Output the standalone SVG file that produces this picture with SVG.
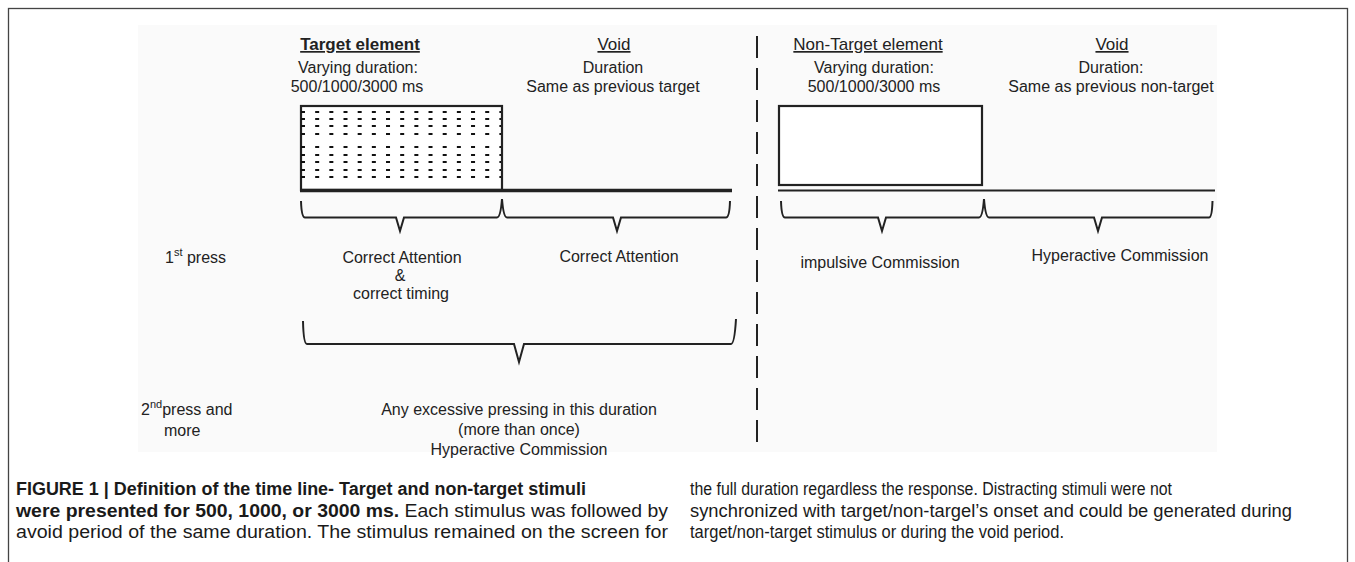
<svg xmlns="http://www.w3.org/2000/svg" width="1355" height="562" viewBox="0 0 1355 562">
<style>
text{font-family:"Liberation Sans",Arial,Helvetica,sans-serif;fill:#222}
.lbl{font-size:16px}
.c{text-anchor:middle}
.hd{font-size:17px;text-decoration:underline}
.b{font-weight:bold}
.sup{font-size:11px}
.cap{font-size:17.5px;fill:#1a1a1a}
.brace{fill:none;stroke:#222;stroke-width:2;stroke-linejoin:miter}
.dots{stroke:#111;stroke-width:2;stroke-dasharray:4 10.17}
.box{fill:#fff;stroke:#222;stroke-width:2.2}
</style>
<rect width="1355" height="562" fill="#fff"/>
<g id="frame">
<rect x="8.5" y="8.5" width="1339" height="620" fill="none" stroke="#444" stroke-width="1.3"/>
<rect x="138" y="25" width="1079" height="427" fill="#fafafa"/>
</g>
<g id="target-element">
<text class="hd b c" x="360" y="50">Target element</text>
<text class="lbl c" x="358" y="73">Varying duration:</text>
<text class="lbl c" x="357" y="92">500/1000/3000 ms</text>
<rect class="box" x="301" y="106" width="201" height="84"/>
<line class="dots" x1="301" x2="501" y1="112" y2="112"/>
<line class="dots" x1="301" x2="501" y1="119" y2="119"/>
<line class="dots" x1="301" x2="501" y1="126" y2="126"/>
<line class="dots" x1="301" x2="501" y1="134" y2="134"/>
<line class="dots" x1="301" x2="501" y1="147" y2="147"/>
<line class="dots" x1="301" x2="501" y1="155" y2="155"/>
<line class="dots" x1="301" x2="501" y1="162" y2="162"/>
<line class="dots" x1="301" x2="501" y1="170" y2="170"/>
<line class="dots" x1="301" x2="501" y1="177" y2="177"/>
</g>
<g id="void-target">
<text class="hd c" x="614" y="50">Void</text>
<text class="lbl c" x="613" y="73">Duration</text>
<text class="lbl c" x="613" y="92">Same as previous target</text>
</g>
<g id="non-target-element">
<text class="hd c" x="868" y="50">Non-Target element</text>
<text class="lbl c" x="874" y="73">Varying duration:</text>
<text class="lbl c" x="874" y="92">500/1000/3000 ms</text>
<rect class="box" x="779" y="106" width="203" height="79"/>
</g>
<g id="void-non-target">
<text class="hd c" x="1112" y="50">Void</text>
<text class="lbl c" x="1111" y="73">Duration:</text>
<text class="lbl c" x="1111" y="92">Same as previous non-target</text>
</g>
<g id="connectors">
<line x1="300" y1="190.5" x2="732" y2="190.5" stroke="#222" stroke-width="3.5"/>
<line x1="778" y1="190.5" x2="1215" y2="190.5" stroke="#222" stroke-width="2"/>
<line x1="757" y1="36" x2="757" y2="452" stroke="#222" stroke-width="2" stroke-dasharray="22 10"/>
<path class="brace" d="M301,201 Q301.5,217.5 305,217.5 L396,217.5 L400,231 L404,217.5 L497,217.5 Q500.5,217.5 502,199 Q503.5,217.5 507,217.5 L613,217.5 L617,231 L621,217.5 L726,217.5 Q729.5,217.5 730,201"/>
<path class="brace" d="M781,201 Q781.5,217.5 785,217.5 L878,217.5 L882,231 L886,217.5 L979,217.5 Q982.5,217.5 984,199 Q985.5,217.5 989,217.5 L1094,217.5 L1098,231 L1102,217.5 L1209,217.5 Q1212,217.5 1212.5,201"/>
<path class="brace" d="M303,321 Q303.5,344 307,344 L514,344 L519,362 L524,344 L731,344 Q734.5,344 736,319"/>
</g>
<g id="row-1st-press">
<text class="lbl" x="165" y="263">1<tspan class="sup" dy="-7">st</tspan><tspan dy="7"> press</tspan></text>
<text class="lbl c" x="402" y="263">Correct Attention</text>
<text class="lbl c" x="400" y="281">&amp;</text>
<text class="lbl c" x="401" y="299">correct timing</text>
<text class="lbl c" x="619" y="262">Correct Attention</text>
<text class="lbl c" x="880" y="268">impulsive Commission</text>
<text class="lbl c" x="1120" y="261">Hyperactive Commission</text>
</g>
<g id="row-2nd-press">
<text class="lbl" x="141" y="415">2<tspan class="sup" dy="-7">nd</tspan><tspan dy="7">press and</tspan></text>
<text class="lbl" x="164" y="436">more</text>
<text class="lbl c" x="519" y="415">Any excessive pressing in this duration</text>
<text class="lbl c" x="519" y="435">(more than once)</text>
<text class="lbl c" x="519" y="455">Hyperactive Commission</text>
</g>
<g id="caption">
<text class="cap b" x="16" y="495" textLength="570" lengthAdjust="spacingAndGlyphs">FIGURE 1 | Definition of the time line- Target and non-target stimuli</text>
<text class="cap" x="16" y="517" textLength="652" lengthAdjust="spacingAndGlyphs"><tspan class="b">were presented for 500, 1000, or 3000 ms.</tspan> Each stimulus was followed by</text>
<text class="cap" x="16" y="538" textLength="652" lengthAdjust="spacingAndGlyphs">avoid period of the same duration. The stimulus remained on the screen for</text>
<text class="cap" x="690" y="495" textLength="482" lengthAdjust="spacingAndGlyphs">the full duration regardless the response. Distracting stimuli were not</text>
<text class="cap" x="690" y="517" textLength="602" lengthAdjust="spacingAndGlyphs">synchronized with target/non-targel’s onset and could be generated during</text>
<text class="cap" x="690" y="538" textLength="374" lengthAdjust="spacingAndGlyphs">target/non-target stimulus or during the void period.</text>
</g>
</svg>
